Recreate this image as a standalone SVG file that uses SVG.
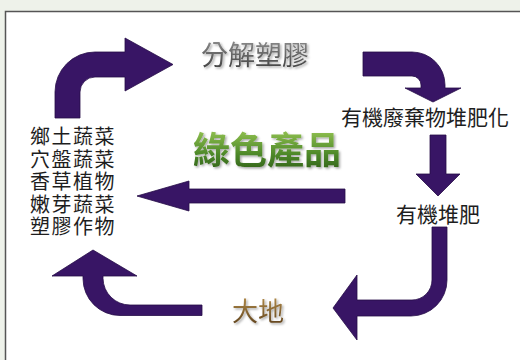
<svg xmlns="http://www.w3.org/2000/svg" width="520" height="360" viewBox="0 0 520 360">
  <defs>
    <linearGradient id="gGreen" x1="0" y1="0" x2="0" y2="1">
      <stop offset="0" stop-color="#8fbf4f"/>
      <stop offset="0.55" stop-color="#4f8a2a"/>
      <stop offset="1" stop-color="#2f5f18"/>
    </linearGradient>
    <linearGradient id="gGrey" x1="0" y1="0" x2="0" y2="1">
      <stop offset="0" stop-color="#8a8a8a"/>
      <stop offset="1" stop-color="#3e3e3e"/>
    </linearGradient>
    <linearGradient id="gBrown" x1="0" y1="0" x2="0" y2="1">
      <stop offset="0" stop-color="#b08a4a"/>
      <stop offset="1" stop-color="#5a3e1a"/>
    </linearGradient>
    <filter id="shadow" x="-10%" y="-10%" width="130%" height="140%">
      <feDropShadow dx="1.5" dy="1.5" stdDeviation="1" flood-color="#000" flood-opacity="0.35"/>
    </filter>
  </defs>
  <style>
    .arrow { fill: #381565; stroke: #260d48; stroke-width: 0.8; }
    .label { font-family: "Liberation Sans", "Noto Sans CJK TC", sans-serif; font-size: 21px; fill: #1e1e1e; }
    .list { font-family: "Liberation Sans", "Noto Sans CJK TC", sans-serif; font-size: 20px; letter-spacing: 1.5px; fill: #1e1e1e; }
    .title { font-family: "Liberation Sans", "Noto Sans CJK TC", sans-serif; text-anchor: middle; filter: url(#shadow); }
  </style>

  <rect x="0" y="0" width="520" height="360" fill="#eef2ea"/>
  <rect x="5.5" y="11.5" width="520" height="360" fill="#ffffff" stroke="#555555" stroke-width="1.5"/>

  <g id="connectors">
    <!-- top-left curved arrow up then right -->
    <path class="arrow" d="M55,118 L55,92 A40,40 0 0 1 95,52 L125,52 L125,38 L173,64.5 L125,91 L125,77 L95,77 A15,15 0 0 0 80,92 L80,118 Z"/>
    <!-- top-right curved arrow right then down -->
    <path class="arrow" d="M363,52 L412,52 A33,33 0 0 1 445,85 L445,88 L461,88 L433,102 L405,88 L421,88 L421,85 A9,9 0 0 0 412,76 L363,76 Z"/>
    <!-- middle down arrow -->
    <path class="arrow" d="M430,135 L446,135 L446,174 L460,174 L438,196 L416,174 L430,174 Z"/>
    <!-- bottom-right curved arrow down then left -->
    <path class="arrow" d="M432,227 L447,227 L447,280 A36,36 0 0 1 411,316 L357,316 L357,340 L333,308 L357,275 L357,300 L412,300 A20,20 0 0 0 432,280 Z"/>
    <!-- bottom-left curved arrow left then up -->
    <path class="arrow" d="M202,305 L202,315.5 L120,315.5 A37,37 0 0 1 83,278.5 L83,276 L52,276 L93,250 L137,276 L103,276 L103,278.5 A27,27 0 0 0 130,305 Z"/>
    <!-- middle left arrow -->
    <path class="arrow" d="M345,189 L345,203 L189,203 L189,211 L137,196 L189,181 L189,189 Z"/>
  </g>

  <g id="node-decompose">
    <text class="title" x="255" y="64.5" font-size="27" fill="url(#gGrey)">分解塑膠</text>
  </g>
  <g id="node-composting">
    <text class="label" x="425" y="125" text-anchor="middle">有機廢棄物堆肥化</text>
  </g>
  <g id="node-compost">
    <text class="label" x="438" y="221.5" text-anchor="middle">有機堆肥</text>
  </g>
  <g id="node-earth">
    <text class="title" x="258" y="321" font-size="26" fill="url(#gBrown)">大地</text>
  </g>
  <g id="node-crops">
    <text class="list" x="30" y="144">鄉土蔬菜</text>
    <text class="list" x="30" y="166.5">穴盤蔬菜</text>
    <text class="list" x="30" y="189">香草植物</text>
    <text class="list" x="30" y="211.5">嫩芽蔬菜</text>
    <text class="list" x="30" y="234">塑膠作物</text>
  </g>
  <g id="node-green">
    <text class="title" x="267" y="164" font-size="37" font-weight="bold" fill="url(#gGreen)">綠色產品</text>
  </g>
</svg>
